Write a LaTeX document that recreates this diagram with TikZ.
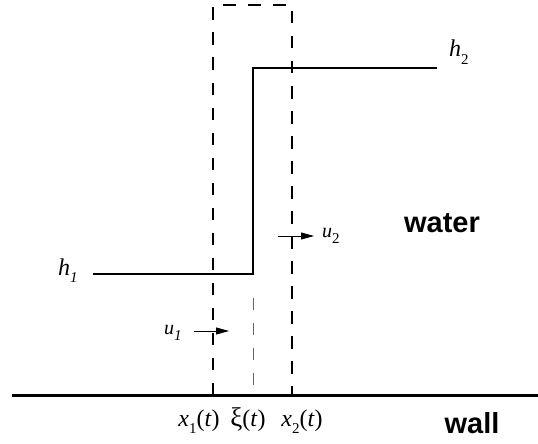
\documentclass[tikz,border=0pt]{standalone}
\usepackage{fontspec}
\setmainfont{Liberation Serif}
\newfontfamily\labelfont{Liberation Sans}
\usetikzlibrary{arrows.meta, positioning}

\newcommand{\lowsub}[1]{\raisebox{-0.3em}{\fontsize{15}{15}\selectfont #1}}

\tikzset{
  surface/.style={line width=1.6pt},
  wallline/.style={line width=3pt},
  cvbox/.style={line width=1.6pt, dash pattern=on 12.5pt off 12.5pt},
  front/.style={line width=0.8pt, black!60, dash pattern=on 11.5pt off 13.5pt},
  velo/.style={line width=0.8pt, -{Triangle[length=13pt,width=7pt]}},
  symlab/.style={font=\fontsize{24}{26}\selectfont, inner sep=0pt},
  ulab/.style={font=\fontsize{20}{22}\selectfont, inner sep=0pt},
  biglab/.style={font=\labelfont\bfseries\fontsize{29}{30}\selectfont, inner sep=0pt},
}

\begin{document}
\begin{tikzpicture}[x=1pt, y=-1pt]
  \useasboundingbox (0,0) rectangle (538,444);

  % wall
  \coordinate (wallL) at (12,395);
  \coordinate (wallR) at (538,395);
  \draw[wallline] (wallL) -- (wallR);

  % control volume
  \coordinate (cvA) at (213,395);
  \coordinate (cvB) at (292,5);
  \draw[cvbox] (cvA) |- (cvB) -- (cvB |- cvA);

  % water surface with jump
  \coordinate (h1start) at (93,274);
  \coordinate (jump) at (253,274);
  \coordinate (h2end) at (437,68);
  \draw[surface] (h1start) -- (jump) |- (h2end);

  % jump position
  \coordinate (xiTop) at (253,298);
  \coordinate (xiBot) at (253,387);
  \draw[front] (xiTop) -- (xiBot);

  % velocities
  \coordinate (u1a) at (194,331);
  \coordinate (u1b) at (229,331);
  \draw[velo] (u1a) -- (u1b);
  \coordinate (u2a) at (278,236);
  \coordinate (u2b) at (314,236);
  \draw[velo] (u2a) -- (u2b);

  % labels
  \node[symlab, anchor=base west] (hone) at (58,275) {\textit{h}\lowsub{\textit{1}}};
  \node[symlab, anchor=base west] (htwo) at (449,57) {\textit{h}\lowsub{2}};
  \node[ulab, anchor=base west] (uone) at (164,334) {\textit{u}\lowsub{\textit{1}}};
  \node[ulab, anchor=base west] (utwo) at (322,237) {\textit{u}\lowsub{2}};
  \node[symlab, anchor=base] (xone) at (199,426) {\textit{x}\lowsub{1}(\textit{t})};
  \node[symlab, anchor=base] (xi) at (248,426) {{\fontsize{27}{27}\selectfont ξ}(\textit{t})};
  \node[symlab, anchor=base] (xtwo) at (302,426) {\textit{x}\lowsub{2}(\textit{t})};
  \node[biglab, anchor=base] (water) at (442,232) {water};
  \node[biglab, anchor=base] (wall) at (472,433) {wall};
\end{tikzpicture}
\end{document}
